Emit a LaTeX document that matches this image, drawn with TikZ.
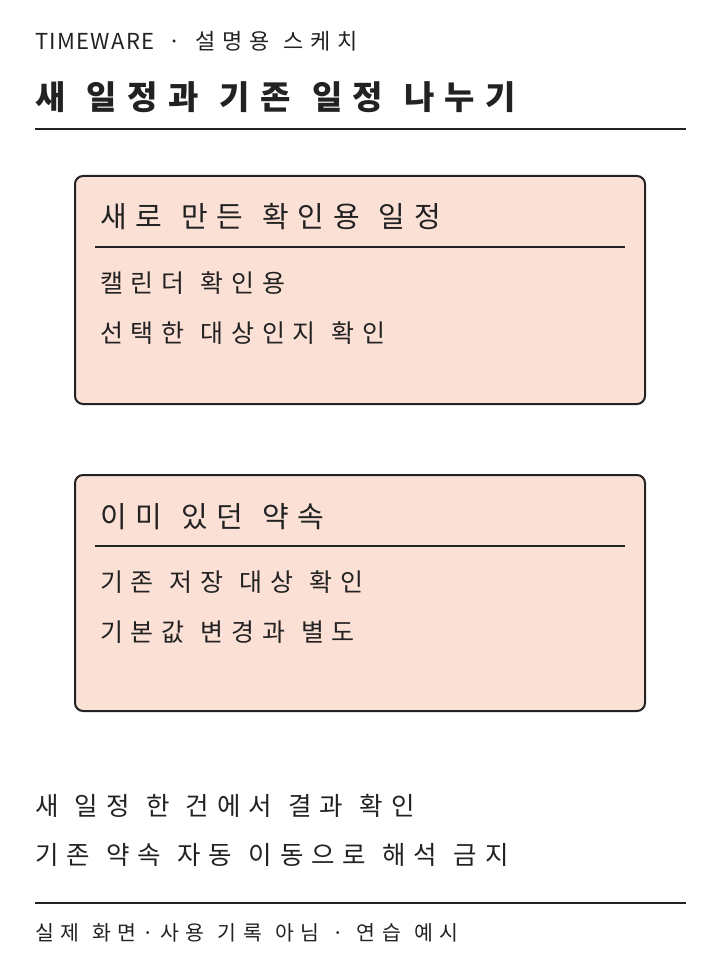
\documentclass[tikz,border=0pt]{standalone}
\usepackage{fontspec}
\setmainfont[LetterSpace=31, WordSpace=1.2]{Noto Sans CJK KR}

\begin{document}
\begin{tikzpicture}[x=1pt, y=-1pt]
        % 기본 설정
        \def\L{35} % 왼쪽 여백
        \definecolor{paper}{RGB}{251,224,214}
        \definecolor{ink}{RGB}{34,34,34}

        % 캔버스 크기 고정
        \useasboundingbox[fill=white] (0,0) rectangle (720,960);

        \tikzstyle{txt} = [anchor=west, inner sep=0pt, text=ink]
        \tikzstyle{cardbox} = [rectangle, rounded corners=8pt, draw=ink, line width=2pt, fill=paper, minimum width=570pt, inner sep=0pt]

        % 1. 머리글과 제목
        \node[txt, font=\fontsize{22}{26}\selectfont] (head) at (\L, 41) {{\addfontfeature{LetterSpace=6}TIMEWARE} · 설명용 스케치};
        \node[txt, font=\bfseries\fontsize{33}{39}\selectfont] (title) at (\L, 97) {새 일정과 기존 일정 나누기};
        \draw[ink, line width=2pt] (\L, 129) -- (686, 129);

        % 2. 첫 번째 상자 (새 일정)
        \node[cardbox, minimum height=228pt] (newbox) at (360, 290) {};
        \node[txt, font=\fontsize{29}{33}\selectfont] (newtitle) at (100, 217) {새로 만든 확인용 일정};
        \draw[ink, line width=1.4pt] (95, 247) -- (625, 247);
        \node[txt, font=\fontsize{25}{30}\selectfont] (newa) at (100, 283) {캘린더 확인용};
        \node[txt, font=\fontsize{25}{30}\selectfont] (newb) at (100, 333) {선택한 대상인지 확인};

        % 3. 두 번째 상자 (기존 약속)
        \node[cardbox, minimum height=236pt] (oldbox) at (360, 593) {};
        \node[txt, font=\fontsize{29}{33}\selectfont] (oldtitle) at (100, 517) {이미 있던 약속};
        \draw[ink, line width=1.4pt] (95, 546) -- (625, 546);
        \node[txt, font=\fontsize{25}{30}\selectfont] (olda) at (100, 582) {기존 저장 대상 확인};
        \node[txt, font=\fontsize{25}{30}\selectfont] (oldb) at (100, 632) {기본값 변경과 별도};

        % 4. 아래 설명
        \node[txt, font=\fontsize{25.5}{30}\selectfont] (notea) at (\L, 806) {새 일정 한 건에서 결과 확인};
        \node[txt, font=\fontsize{25.5}{30}\selectfont] (noteb) at (\L, 855) {기존 약속 자동 이동으로 해석 금지};
        \draw[ink, line width=2pt] (\L, 903) -- (686, 903);
        \node[txt, font=\fontsize{20.5}{24}\selectfont] (foot) at (\L, 933) {실제 화면·사용 기록 아님 · 연습 예시};

    \end{tikzpicture}
\end{document}
